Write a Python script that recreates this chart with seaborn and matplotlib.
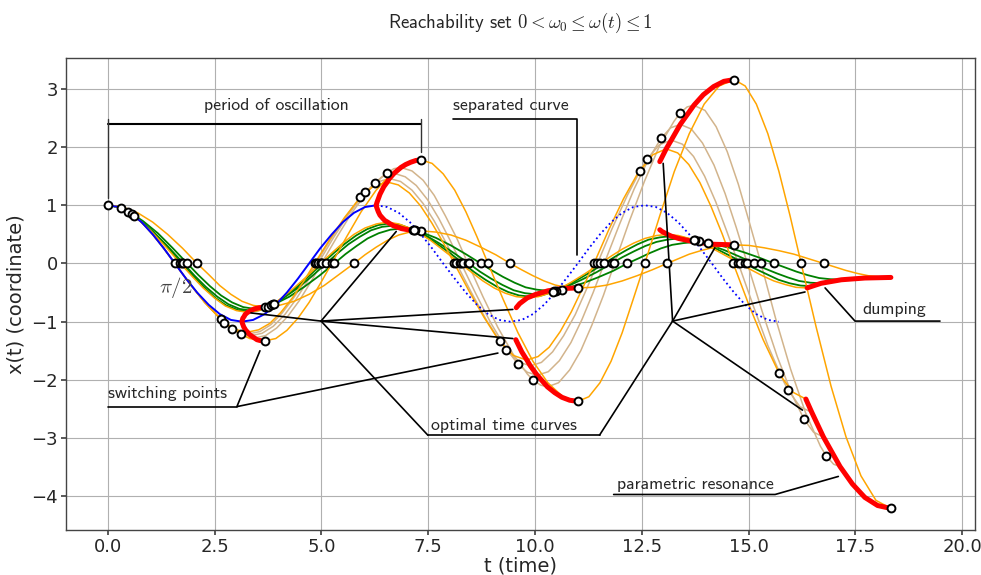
import matplotlib
matplotlib.use("Agg")
import matplotlib.pyplot as plt
import seaborn as sns

# omega = 1 all the time (solid for one period, dotted afterwards)
blue_t = [0, .26, .52, .79, 1.05, 1.31, 1.57, 1.83, 2.09, 2.36, 2.62, 2.88, 3.14, 3.40, 3.67, 3.93,
          4.19, 4.45, 4.71, 4.97, 5.24, 5.50, 5.76, 6.02, 6.28, 6.54, 6.81, 7.07, 7.33, 7.59, 7.85,
          8.12, 8.38, 8.64, 8.90, 9.16, 9.42, 9.69, 9.95, 10.21, 10.47, 10.73, 11.00, 11.26, 11.52,
          11.78, 12.04, 12.30, 12.57, 12.83, 13.09, 13.35, 13.61, 13.87, 14.14, 14.40, 14.66, 14.92,
          15.18, 15.45, 15.71]
blue_x = [1, .97, .87, .71, .5, .26, 0, -.26, -.5, -.71, -.87, -.97, -1, -.97, -.87, -.71, -.5, -.26,
          0, .26, .5, .71, .87, .97, 1, .97, .87, .71, .5, .26, 0, -.26, -.5, -.71, -.87, -.97, -1,
          -.97, -.87, -.71, -.5, -.26, 0, .26, .5, .71, .87, .97, 1, .97, .87, .71, .5, .26, 0, -.26,
          -.5, -.71, -.87, -.97, -1]
BLUE_SOLID = 25

# parametric resonance family (switch omega earlier and earlier), res5 = full resonance
res1_t = [0, .26, .52, .79, 1.05, 1.31, 1.57, 1.92, 2.27, 2.62, 2.64, 2.95, 3.27, 3.53, 3.79, 4.05, 4.32,
          4.58, 4.84, 5.19, 5.54, 5.89, 5.91, 6.22, 6.54, 6.80, 7.06, 7.32, 7.58, 7.85, 8.11, 8.46, 8.81,
          9.15, 9.18, 9.49, 9.80, 10.07, 10.33, 10.59, 10.85, 11.11, 11.38, 11.72, 12.07, 12.42, 12.45,
          12.76, 13.07, 13.34, 13.60, 13.86, 14.12, 14.38, 14.64, 14.99, 15.34, 15.69, 15.71, 16.03, 16.34]
res1_x = [1, .97, .87, .71, .5, .26, 0, -.35, -.67, -.94, -.96, -1.13, -1.18, -1.14, -1.03, -.84, -.59,
          -.31, 0, .41, .79, 1.12, 1.14, 1.33, 1.40, 1.35, 1.21, .99, .70, .36, 0, -.48, -.93, -1.32,
          -1.34, -1.58, -1.66, -1.60, -1.44, -1.17, -.83, -.43, 0, .57, 1.11, 1.57, 1.59, 1.87, 1.97,
          1.90, 1.70, 1.39, .98, .51, 0, -.68, -1.31, -1.85, -1.89, -2.21, -2.33]
res2_t = [0, .26, .52, .79, 1.05, 1.31, 1.57, 1.92, 2.27, 2.62, 2.73, 3.02, 3.30, 3.56, 3.82, 4.08, 4.34,
          4.61, 4.87, 5.22, 5.57, 5.91, 6.03, 6.31, 6.59, 6.85, 7.12, 7.38, 7.64, 7.90, 8.16, 8.51, 8.86,
          9.21, 9.33, 9.61, 9.89, 10.15, 10.41, 10.67, 10.94, 11.20, 11.46, 11.81, 12.16, 12.51, 12.62,
          12.91, 13.19, 13.45, 13.71, 13.97, 14.23, 14.49, 14.76, 15.11, 15.45, 15.80, 15.92, 16.20, 16.48]
res2_x = [1, .97, .87, .71, .5, .26, 0, -.35, -.67, -.94, -1.02, -1.16, -1.21, -1.17, -1.05, -.85, -.60,
          -.31, 0, .42, .80, 1.14, 1.23, 1.40, 1.46, 1.41, 1.26, 1.03, .73, .38, 0, -.50, -.97, -1.37,
          -1.49, -1.69, -1.76, -1.70, -1.52, -1.24, -.88, -.45, 0, .61, 1.17, 1.66, 1.79, 2.04, 2.12,
          2.05, 1.84, 1.50, 1.06, .55, 0, -.73, -1.41, -2.00, -2.17, -2.46, -2.56]
res3_t = [0, .26, .52, .79, 1.05, 1.31, 1.57, 1.92, 2.27, 2.62, 2.90, 3.12, 3.35, 3.61, 3.87, 4.14, 4.40,
          4.66, 4.92, 5.27, 5.62, 5.97, 6.25, 6.47, 6.70, 6.96, 7.22, 7.49, 7.75, 8.01, 8.27, 8.62, 8.97,
          9.32, 9.60, 9.82, 10.05, 10.31, 10.57, 10.84, 11.10, 11.36, 11.62, 11.97, 12.32, 12.67, 12.95,
          13.17, 13.40, 13.66, 13.92, 14.19, 14.45, 14.71, 14.97, 15.32, 15.67, 16.02, 16.30, 16.52, 16.75]
res3_x = [1, .97, .87, .71, .5, .26, 0, -.35, -.67, -.94, -1.12, -1.21, -1.24, -1.20, -1.08, -.88, -.62,
          -.32, 0, .43, .83, 1.17, 1.39, 1.51, 1.55, 1.49, 1.34, 1.09, .77, .40, 0, -.53, -1.03, -1.46,
          -1.73, -1.87, -1.92, -1.86, -1.67, -1.36, -.96, -.50, 0, .66, 1.28, 1.81, 2.15, 2.33, 2.39,
          2.31, 2.07, 1.69, 1.20, .62, 0, -.83, -1.60, -2.26, -2.68, -2.90, -2.98]
res4_t = [0, .26, .52, .79, 1.05, 1.31, 1.57, 1.92, 2.27, 2.62, 2.97, 3.11, 3.27, 3.43, 3.69, 3.95, 4.21,
          4.48, 4.74, 5.00, 5.35, 5.70, 6.05, 6.40, 6.54, 6.70, 6.86, 7.12, 7.38, 7.64, 7.90, 8.17, 8.43,
          8.78, 9.13, 9.48, 9.82, 9.96, 10.13, 10.29, 10.55, 10.81, 11.07, 11.33, 11.60, 11.86, 12.21,
          12.56, 12.90, 13.25, 13.39, 13.56, 13.71, 13.98, 14.24, 14.50, 14.76, 15.02, 15.29, 15.63,
          15.98, 16.33, 16.68, 16.82, 16.99, 17.14]
res4_x = [1, .97, .87, .71, .5, .26, 0, -.35, -.67, -.94, -1.15, -1.22, -1.27, -1.28, -1.24, -1.11, -.91,
          -.64, -.33, 0, .44, .86, 1.21, 1.48, 1.56, 1.63, 1.65, 1.59, 1.43, 1.17, .82, .43, 0, -.57,
          -1.10, -1.55, -1.90, -2.01, -2.09, -2.12, -2.05, -1.83, -1.50, -1.06, -.55, 0, .73, 1.41,
          2.00, 2.44, 2.58, 2.69, 2.72, 2.63, 2.35, 1.92, 1.36, .70, 0, -.94, -1.81, -2.56, -3.14,
          -3.31, -3.45, -3.49]
res5_t = [0, .26, .52, .79, 1.05, 1.31, 1.57, 1.92, 2.27, 2.62, 2.97, 3.32, 3.67, 3.93, 4.19, 4.45, 4.71,
          4.97, 5.24, 5.59, 5.93, 6.28, 6.63, 6.98, 7.33, 7.59, 7.85, 8.12, 8.38, 8.64, 8.90, 9.25, 9.60,
          9.95, 10.30, 10.65, 11.00, 11.26, 11.52, 11.78, 12.04, 12.30, 12.57, 12.92, 13.26, 13.61,
          13.96, 14.31, 14.66, 14.92, 15.18, 15.45, 15.71, 15.97, 16.23, 16.58, 16.93, 17.28, 17.63,
          17.98, 18.33]
res5_x = [1, .97, .87, .71, .5, .26, 0, -.35, -.67, -.94, -1.15, -1.29, -1.33, -1.29, -1.15, -.94, -.67,
          -.35, 0, .46, .89, 1.26, 1.54, 1.72, 1.78, 1.72, 1.54, 1.26, .89, .46, 0, -.61, -1.19, -1.68,
          -2.05, -2.29, -2.37, -2.29, -2.05, -1.68, -1.19, -.61, 0, .82, 1.58, 2.23, 2.74, 3.05, 3.16,
          3.05, 2.74, 2.23, 1.58, .82, 0, -1.09, -2.11, -2.98, -3.65, -4.07, -4.21]

# damping family, dmp0 = full damping
dmp0_t = [0, .35, .70, 1.05, 1.40, 1.75, 2.09, 2.36, 2.62, 2.88, 3.14, 3.40, 3.67, 4.01, 4.36, 4.71, 5.06,
          5.41, 5.76, 6.02, 6.28, 6.55, 6.81, 7.07, 7.33, 7.68, 8.03, 8.38, 8.73, 9.08, 9.42, 9.69, 9.95,
          10.21, 10.47, 10.73, 11.00, 11.34, 11.69, 12.04, 12.39, 12.74, 13.09, 13.35, 13.61, 13.88,
          14.14, 14.40, 14.66, 15.01, 15.36, 15.71, 16.06, 16.41, 16.76, 17.02, 17.28, 17.54, 17.80,
          18.06, 18.33]
dmp0_x = [1, .97, .87, .71, .5, .26, 0, -.19, -.38, -.53, -.65, -.72, -.75, -.72, -.65, -.53, -.38, -.19,
          0, .15, .28, .40, .49, .54, .56, .54, .49, .40, .28, .15, 0, -.11, -.21, -.30, -.37, -.41,
          -.42, -.41, -.37, -.30, -.21, -.11, 0, .08, .16, .22, .27, .31, .32, .31, .27, .22, .16, .08,
          0, -.06, -.12, -.17, -.21, -.23, -.24]
dmp1_t = [0, .26, .31, .47, .82, 1.17, 1.51, 1.86, 2.12, 2.39, 2.65, 2.91, 3.17, 3.43, 3.70, 3.75, 3.90,
          4.25, 4.60, 4.95, 5.30, 5.56, 5.82, 6.08, 6.34, 6.61, 6.87, 7.13, 7.18, 7.33, 7.68, 8.03, 8.38,
          8.73, 8.99, 9.25, 9.52, 9.78, 10.04, 10.30, 10.56, 10.62, 10.77, 11.12, 11.47, 11.82, 12.16,
          12.43, 12.69, 12.95, 13.21, 13.47, 13.74, 14.00, 14.05, 14.20, 14.55, 14.90, 15.25, 15.60,
          15.86, 16.12, 16.38, 16.65, 16.91, 17.17]
dmp1_x = [1, .97, .95, .90, .73, .52, .27, 0, -.20, -.39, -.55, -.67, -.75, -.78, -.75, -.74, -.70, -.57,
          -.40, -.21, 0, .16, .30, .43, .52, .58, .60, .58, .57, .54, .44, .31, .16, 0, -.12, -.23, -.33,
          -.41, -.45, -.47, -.45, -.45, -.42, -.34, -.24, -.13, 0, .09, .18, .26, .32, .35, .37, .35,
          .35, .33, .27, .19, .10, 0, -.07, -.14, -.20, -.25, -.27, -.28]
dmp2_t = [0, .26, .47, .72, 1.07, 1.42, 1.77, 2.03, 2.29, 2.56, 2.82, 3.08, 3.34, 3.60, 3.81, 4.06, 4.41,
          4.76, 5.11, 5.37, 5.63, 5.90, 6.16, 6.42, 6.68, 6.94, 7.15, 7.40, 7.75, 8.10, 8.45, 8.71, 8.97,
          9.24, 9.50, 9.76, 10.02, 10.28, 10.49, 10.74, 11.09, 11.44, 11.79, 12.05, 12.32, 12.58, 12.84,
          13.10, 13.36, 13.62, 13.83, 14.09, 14.43, 14.78, 15.13, 15.39, 15.66, 15.92, 16.18, 16.44, 16.70]
dmp2_x = [1, .97, .89, .76, .54, .28, 0, -.21, -.40, -.57, -.70, -.78, -.81, -.78, -.72, -.62, -.44, -.23,
          0, .17, .33, .46, .57, .63, .65, .63, .58, .50, .35, .18, 0, -.14, -.26, -.37, -.46, -.51,
          -.53, -.51, -.47, -.40, -.28, -.15, 0, .11, .21, .30, .37, .41, .43, .41, .38, .32, .23, .12,
          0, -.09, -.17, -.24, -.30, -.33, -.34]
dmp3_t = [0, .26, .56, .68, 1.03, 1.38, 1.73, 1.99, 2.25, 2.51, 2.77, 3.04, 3.30, 3.56, 3.86, 3.98, 4.33,
          4.67, 5.02, 5.29, 5.55, 5.81, 6.07, 6.33, 6.59, 6.86, 7.15, 7.27, 7.62, 7.97, 8.32, 8.58, 8.84,
          9.11, 9.37, 9.63, 9.89, 10.15, 10.45, 10.57, 10.92, 11.27, 11.62, 11.88, 12.14, 12.40, 12.66,
          12.93, 13.19, 13.45, 13.75, 13.87, 14.22, 14.57, 14.91, 15.18, 15.44, 15.70, 15.96, 16.22, 16.49]
dmp3_x = [1, .97, .85, .78, .55, .29, 0, -.21, -.41, -.59, -.72, -.80, -.83, -.80, -.70, -.65, -.46, -.24,
          0, .18, .34, .48, .59, .66, .69, .66, .58, .54, .38, .20, 0, -.15, -.28, -.40, -.49, -.55,
          -.57, -.55, -.48, -.44, -.31, -.16, 0, .12, .23, .33, .41, .45, .47, .45, .40, .37, .26, .13,
          0, -.10, -.19, -.28, -.34, -.38, -.39]
dmp4_t = [0, .26, .61, 1.01, 1.35, 1.70, 1.97, 2.23, 2.49, 2.75, 3.01, 3.27, 3.54, 3.89, 4.28, 4.63, 4.98,
          5.24, 5.50, 5.76, 6.02, 6.29, 6.55, 6.81, 7.16, 7.55, 7.90, 8.25, 8.51, 8.78, 9.04, 9.30, 9.56,
          9.82, 10.08, 10.43, 10.83, 11.18, 11.53, 11.79, 12.05, 12.31, 12.57, 12.84, 13.10, 13.36, 13.71,
          14.10, 14.45, 14.80, 15.06, 15.32, 15.59, 15.85, 16.11, 16.37]
dmp4_x = [1, .97, .82, .56, .29, 0, -.22, -.42, -.59, -.73, -.81, -.84, -.81, -.69, -.47, -.24, 0, .18,
          .35, .50, .61, .68, .71, .68, .58, .40, .20, 0, -.15, -.30, -.42, -.51, -.57, -.59, -.57, -.49,
          -.33, -.17, 0, .13, .25, .35, .43, .48, .50, .48, .41, .28, .14, 0, -.11, -.21, -.30, -.36,
          -.41, -.42]

# optimal time curves (red)
red_a_t = [3.67, 3.60, 3.54, 3.49, 3.43, 3.35, 3.30, 3.27, 3.23, 3.18, 3.15, 3.14, 3.14, 3.16, 3.19, 3.21,
           3.24, 3.27, 3.30, 3.34, 3.43, 3.54, 3.67]
red_a_x = [-1.33, -1.33, -1.32, -1.31, -1.28, -1.24, -1.21, -1.18, -1.15, -1.09, -1.03, -1.0, -.99, -.94,
           -.91, -.88, -.86, -.84, -.83, -.81, -.78, -.76, -.75]
red_b_t = [7.33, 7.21, 7.09, 6.97, 6.86, 6.70, 6.59, 6.54, 6.46, 6.37, 6.30, 6.28, 6.29, 6.33, 6.37, 6.43,
           6.48, 6.55, 6.59, 6.68, 6.87, 7.09, 7.33]
red_b_x = [1.78, 1.77, 1.74, 1.70, 1.65, 1.55, 1.46, 1.40, 1.32, 1.19, 1.05, 1.0, .97, .89, .83, .78, .74,
           .71, .69, .65, .60, .57, .56]
red_c1_t = [9.55, 9.69, 9.81, 9.89, 10.05, 10.29, 10.46, 10.63, 10.81, 11.00]
red_c1_x = [-1.31, -1.52, -1.66, -1.76, -1.92, -2.12, -2.22, -2.30, -2.35, -2.37]
red_c2_t = [9.56, 9.64, 9.73, 9.82, 9.89, 10.02, 10.30, 10.63, 11.00]
red_c2_x = [-.76, -.69, -.64, -.59, -.57, -.53, -.47, -.43, -.42]
red_c3_t = [12.92, 13.07, 13.19, 13.40, 13.72, 13.94, 14.18, 14.42, 14.66]
red_c3_x = [1.75, 1.97, 2.12, 2.39, 2.72, 2.90, 3.04, 3.13, 3.16]
red_c4_t = [12.92, 12.97, 13.10, 13.19, 13.36, 13.74, 14.18, 14.66]
red_c4_x = [.58, .55, .50, .47, .43, .37, .33, .32]
red_d1_t = [16.34, 16.48, 16.75, 17.14, 17.43, 17.72, 18.02, 18.33]
red_d1_x = [-2.33, -2.56, -2.98, -3.49, -3.79, -4.02, -4.16, -4.21]
red_d2_t = [16.37, 16.49, 16.70, 17.17, 17.72, 18.33]
red_d2_x = [-.42, -.39, -.34, -.28, -.25, -.24]

# switching points
zero_t = [1.57, 1.70, 1.73, 1.77, 1.86, 2.09,
          4.84, 4.87, 4.92, 4.98, 5.00, 5.02, 5.11, 5.24, 5.30, 5.76,
          8.11, 8.16, 8.25, 8.27, 8.32, 8.43, 8.45, 8.73, 8.90, 9.42,
          11.38, 11.46, 11.53, 11.62, 11.79, 11.86, 12.16, 12.57, 13.09,
          14.64, 14.76, 14.80, 14.91, 14.97, 15.13, 15.29, 15.60, 16.23, 16.76]
sw_t = [2.64, 2.73, 2.90, 3.11, 3.67, 5.91, 6.03, 6.25, 6.54, 7.33, 9.18, 9.33, 9.60, 9.96, 11.00,
        12.45, 12.62, 12.95, 13.39, 14.66, 15.71, 15.92, 16.30, 16.82, 18.33,
        0, .31, .47, .56, .61, 3.67, 3.75, 3.81, 3.86, 3.89, 7.33, 7.18, 7.15, 7.16,
        11.00, 10.62, 10.49, 10.45, 10.43, 14.66, 14.05, 13.83, 13.75, 13.71]
sw_x = [-.96, -1.02, -1.12, -1.22, -1.33, 1.14, 1.23, 1.39, 1.56, 1.78, -1.34, -1.49, -1.73, -2.01, -2.37,
        1.59, 1.79, 2.15, 2.58, 3.16, -1.89, -2.17, -2.68, -3.31, -4.21,
        1, .95, .89, .85, .82, -.75, -.74, -.72, -.70, -.69, .56, .57, .58, .58,
        -.42, -.45, -.47, -.48, -.49, .32, .35, .38, .40, .41]

# annotation leader lines (data coordinates)
bracket = ([0, 7.33], [2.40, 2.40])
bracket_l = ([0, 0], [2.48, 1.12])
bracket_r = ([7.33, 7.33], [2.48, 1.92])
sep_line = ([8.07, 10.99, 10.99], [2.49, 2.49, 0.15])
dump_line = ([19.48, 17.49, 16.79], [-0.99, -0.99, -0.42])
switch_line = ([0, 3.02], [-2.46, -2.46])
switch_spokes = ([3.56, 3.02, 9.13], [-1.50, -2.46, -1.54])
opt_under = ([7.49, 11.51], [-2.95, -2.95])
hub1 = (4.99, -0.99)
hub1_ends = [(3.35, -0.85), (6.75, 0.55), (9.48, -0.79), (9.48, -1.29), (7.49, -2.95)]
hub2 = (13.22, -0.99)
hub2_ends = [(11.51, -2.95), (13.0, 1.72), (14.21, 0.27), (16.32, -0.49), (16.26, -2.52)]
par_line = ([11.84, 15.62, 17.1], [-3.97, -3.97, -3.66])

ORANGE = "#ffa500"
TAN = "#d2b48c"
GREEN = "#008000"
BLUE = "#0000ff"
RED = "#ff0000"

sns.set_theme(style="ticks")
plt.rcParams["font.family"] = ["DejaVu Sans"]
plt.rcParams["mathtext.fontset"] = "cm"

fig, ax = plt.subplots(figsize=(9.81, 5.75), dpi=100)
fig.subplots_adjust(left=0.0673, right=0.9939, top=0.899, bottom=0.0783)


def curve(t, x, color, lw=1.1, z=2):
    sns.lineplot(x=t, y=x, ax=ax, sort=False, estimator=None, color=color,
                 linewidth=lw, zorder=z, legend=False)


for t, x in [(res2_t, res2_x), (res3_t, res3_x), (res4_t, res4_x)]:
    curve(t, x, TAN)
for t, x in [(dmp1_t, dmp1_x), (dmp2_t, dmp2_x), (dmp3_t, dmp3_x)]:
    curve(t, x, GREEN, lw=1.3)
for t, x in [(res1_t, res1_x), (res5_t, res5_x), (dmp0_t, dmp0_x), (dmp4_t, dmp4_x)]:
    curve(t, x, ORANGE)

curve(blue_t[:BLUE_SOLID], blue_x[:BLUE_SOLID], BLUE, lw=1.4, z=3)
ax.plot(blue_t[BLUE_SOLID - 1:], blue_x[BLUE_SOLID - 1:], color=BLUE, lw=1.3, ls=":", zorder=3)

for t, x in [(red_a_t, red_a_x), (red_b_t, red_b_x), (red_c1_t, red_c1_x), (red_c2_t, red_c2_x),
             (red_c3_t, red_c3_x), (red_c4_t, red_c4_x), (red_d1_t, red_d1_x), (red_d2_t, red_d2_x)]:
    curve(t, x, RED, lw=3.6, z=4)

# annotations
line_kw = dict(color="black", lw=1.2, zorder=5)
ax.plot(*bracket, color="black", lw=1.5, zorder=5)
ax.plot(*bracket_l, color="#333333", lw=1.0, zorder=5)
ax.plot(*bracket_r, color="#333333", lw=1.0, zorder=5)
for seg in [sep_line, dump_line, switch_line, switch_spokes, opt_under, par_line]:
    ax.plot(*seg, **line_kw)
for hub, ends in [(hub1, hub1_ends), (hub2, hub2_ends)]:
    for e in ends:
        ax.plot([hub[0], e[0]], [hub[1], e[1]], **line_kw)

txt_kw = dict(fontfamily="cmss10", fontsize=12.8, va="center", ha="left", zorder=7)
ax.text(2.25, 2.72, "period of oscillation", **txt_kw)
ax.text(8.07, 2.72, "separated curve", **txt_kw)
ax.text(17.67, -0.79, "dumping", **txt_kw)
ax.text(0.0, -2.24, "switching points", **txt_kw)
ax.text(7.57, -2.79, "optimal time curves", **txt_kw)
ax.text(11.93, -3.80, "parametric resonance", **txt_kw)
ax.text(1.6, -0.42, r"$\pi/2$", fontsize=15, color="#444444", ha="center", va="center")

# switching points
sns.scatterplot(x=zero_t, y=[0] * len(zero_t), ax=ax, s=32, color="white", edgecolor="black",
                linewidth=1.4, zorder=6, legend=False)
sns.scatterplot(x=sw_t, y=sw_x, ax=ax, s=32, color="white", edgecolor="black",
                linewidth=1.4, zorder=6, legend=False)

ax.set_xlim(-0.98, 20.3)
ax.set_ylim(-4.58, 3.53)
ax.grid(True, color="#b0b0b0", lw=0.8)
ax.set_axisbelow(True)
for sp in ax.spines.values():
    sp.set_color("#444444")
    sp.set_linewidth(1.0)
ax.tick_params(labelsize=13, length=3.5, pad=2.5, color="#444444")
ax.set_xlabel("t (time)", fontsize=14, labelpad=0)
ax.set_ylabel("x(t) (coordinate)", fontsize=14, labelpad=4)
ax.set_title(r"Reachability set $0 < \omega_0 \leq \omega(t) \leq 1$", fontfamily="cmss10",
             fontsize=13.5, pad=22)

fig.savefig("out.png", dpi=100)
